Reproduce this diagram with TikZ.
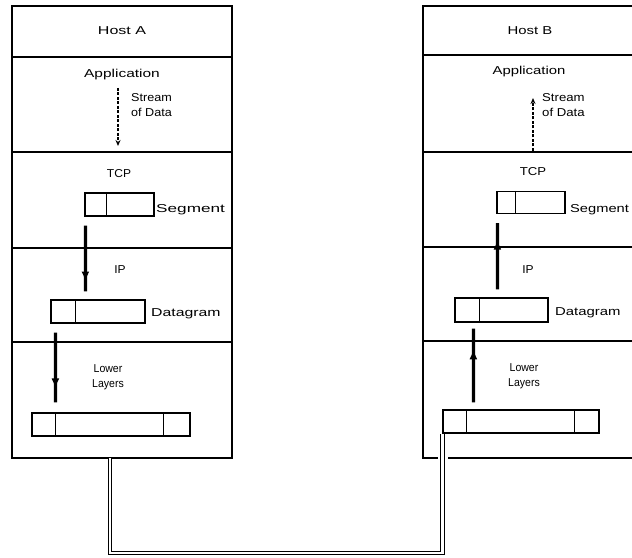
\documentclass[tikz,border=0pt]{standalone}
\usepackage{fontspec}
\usepackage{graphicx}
\setmainfont{Liberation Sans}
\usetikzlibrary{calc,arrows.meta,decorations.markings}
\newcommand\wx[2]{\scalebox{#1}[1]{#2}}
\tikzset{
  hostline/.style={line width=1.3bp, line cap=rect},
  lbl/.style={inner sep=0pt, font=\fontsize{11.5}{15}\selectfont},
  pkt/.style={draw, line width=1.2bp, inner sep=0pt, rectangle},
  thickarrow/.style={line width=3.2bp, postaction={decorate},
    decoration={markings, mark=at position #1 with {\arrow{Latex[length=10bp,width=8bp]}}}},
  streamarrow/.style={line width=1.5bp, dash pattern=on 3bp off 1.5bp, -{Stealth[length=6bp,width=5bp]}},
  cable/.style={double, double distance=2.2bp, line width=1bp}
}
\begin{document}
\begin{tikzpicture}[x=1bp,y=-1bp]
\useasboundingbox (0,0) rectangle (632,558);
\fill[white] (0,0) rectangle (632,558);
\clip (0,0) rectangle (632,558);

% ---------- Host A frame ----------
\draw[hostline] (12,6) rectangle (232,458);
\foreach \yy in {57,152,248,342} \draw[hostline] (12,\yy) -- (232,\yy);
\coordinate (cA) at (110,458);

% ---------- Host B frame ----------
\draw[hostline] (633,6) -- (423,6) -- (423,458) -- (437,458);
\draw[hostline] (449,458) -- (633,458);
\foreach \yy in {55,152,247,341} \draw[hostline] (423,\yy) -- (633,\yy);

% ---------- Host A texts ----------
\node[lbl] (hA) at (122,31) {\wx{1.4}{Host A}};
\node[lbl] (apA) at (122,75) {\wx{1.35}{Application}};
\node[lbl, anchor=west, align=left] (stA) at (131,105) {\wx{1.1}{Stream}\\\wx{1.1}{of Data}};
\coordinate (sA1) at (118,88);
\coordinate (sA2) at (118,146);
\draw[streamarrow] (sA1) -- (sA2);
\node[lbl] (tcpA) at (119,174) {\wx{1.05}{TCP}};
\node[lbl] (ipA) at (120,270) {\wx{1.05}{IP}};
\node[lbl, align=center] (llA) at (108,377) {\wx{0.92}{Lower}\\\wx{0.92}{Layers}};

% Host A packets
\node[pkt, minimum width=69bp, minimum height=23bp] (segA) at (119.5,204.5) {};
\draw[line width=1.2bp] ($(segA.north west)+(22,0)$) -- ($(segA.south west)+(22,0)$);
\node[lbl, anchor=west] (segAl) at (156,210) {\wx{1.5}{Segment}};
\node[pkt, minimum width=94bp, minimum height=23bp] (datA) at (98,311.5) {};
\draw[line width=1.2bp] ($(datA.north west)+(25,0)$) -- ($(datA.south west)+(25,0)$);
\node[lbl, anchor=west] (datAl) at (151,314) {\wx{1.38}{Datagram}};
\node[pkt, minimum width=158bp, minimum height=23bp] (frA) at (111,424.5) {};
\draw[line width=1.2bp] ($(frA.north west)+(24,0)$) -- ($(frA.south west)+(24,0)$);
\draw[line width=1.2bp] ($(frA.north west)+(132,0)$) -- ($(frA.south west)+(132,0)$);

\draw[thickarrow=0.85] ($(segA.south west)+(1,9)$) -- ($(datA.north west)+(35,-8)$);
\draw[thickarrow=0.8] ($(datA.south west)+(5,9)$) -- ($(frA.north west)+(24,-10)$);

% ---------- Host B texts ----------
\node[lbl] (hB) at (530,31) {\wx{1.3}{Host B}};
\node[lbl] (apB) at (529,72) {\wx{1.3}{Application}};
\node[lbl, anchor=west, align=left] (stB) at (542,105) {\wx{1.15}{Stream}\\\wx{1.15}{of Data}};
\coordinate (sB1) at (533,151);
\coordinate (sB2) at (533,98);
\draw[streamarrow] (sB1) -- (sB2);
\node[lbl] (tcpB) at (533,172) {\wx{1.15}{TCP}};
\node[lbl] (ipB) at (528,270) {\wx{1.05}{IP}};
\node[lbl, align=center] (llB) at (524,376) {\wx{0.92}{Lower}\\\wx{0.92}{Layers}};

% Host B packets
\node[pkt, minimum width=68bp, minimum height=22bp] (segB) at (531,202.5) {};
\draw[line width=1.2bp] ($(segB.north west)+(19,0)$) -- ($(segB.south west)+(19,0)$);
\node[lbl, anchor=west] (segBl) at (570,210) {\wx{1.28}{Segment}};
\node[pkt, minimum width=93bp, minimum height=24bp] (datB) at (501.5,310) {};
\draw[line width=1.2bp] ($(datB.north west)+(25,0)$) -- ($(datB.south west)+(25,0)$);
\node[lbl, anchor=west] (datBl) at (555,313) {\wx{1.3}{Datagram}};
\node[pkt, minimum width=156bp, minimum height=23bp] (frB) at (521,421.5) {};
\draw[line width=1.2bp] ($(frB.north west)+(24,0)$) -- ($(frB.south west)+(24,0)$);
\draw[line width=1.2bp] ($(frB.north west)+(132,0)$) -- ($(frB.south west)+(132,0)$);

\draw[thickarrow=0.75] ($(datB.north west)+(43,-8)$) -- ($(segB.south west)+(1,9)$);
\draw[thickarrow=0.72] ($(frB.north west)+(31,-7)$) -- ($(datB.south west)+(19,6)$);

% ---------- cable ----------
\draw[cable] (cA) -- ($(cA)+(0,95)$) -| (frB.south west);
\end{tikzpicture}
\end{document}
